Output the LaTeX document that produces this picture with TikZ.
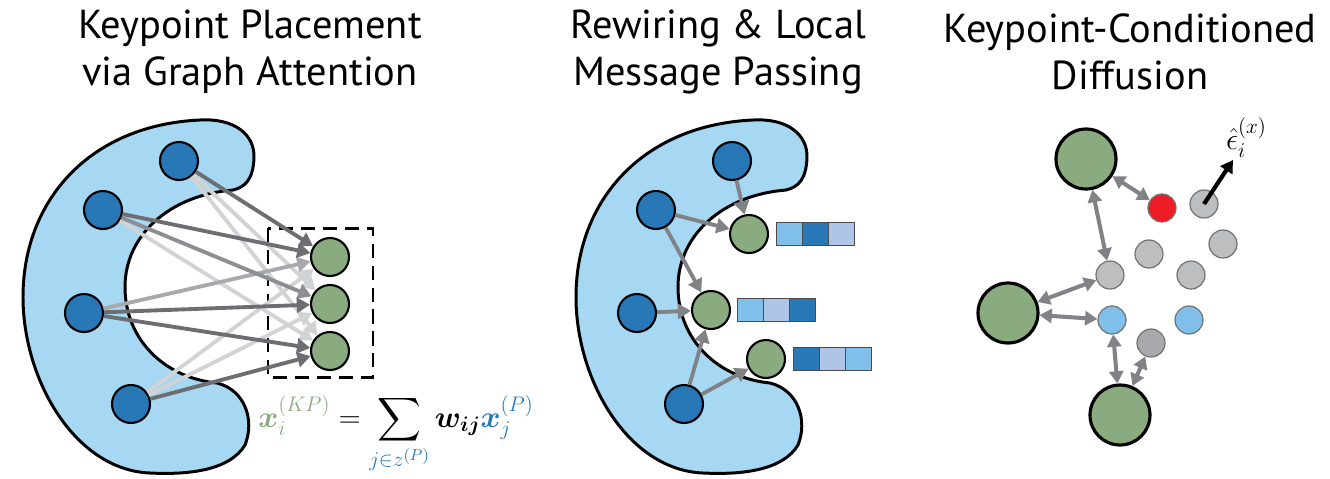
\documentclass[tikz,border=0pt]{standalone}
\usepackage{amsmath}
\usepackage{bm}
\usepackage{fontspec}
\setsansfont{PT Sans}
\usepackage{tikz}
\usetikzlibrary{arrows.meta,positioning}

\definecolor{blobblue}{RGB}{166,216,243}
\definecolor{ptblue}{RGB}{40,120,184}
\definecolor{kpgreen}{RGB}{138,170,128}
\definecolor{cellblue}{RGB}{127,191,233}
\definecolor{celllav}{RGB}{174,197,232}
\definecolor{arrowgray}{RGB}{128,130,133}
\definecolor{attdark}{RGB}{109,110,113}
\definecolor{attmid}{RGB}{140,142,145}
\definecolor{attsoft}{RGB}{167,169,172}
\definecolor{attlight}{RGB}{209,211,212}
\definecolor{dotgray}{RGB}{188,190,192}
\definecolor{dotdark}{RGB}{167,169,172}
\definecolor{dotred}{RGB}{237,28,36}

% outline of the point cloud
\newcommand{\blobshape}{(233,190) .. controls (170,195) and (125,235) .. (125,287)
  .. controls (125,340) and (165,378) .. (217,383)
  .. controls (245,390) and (255,420) .. (245,445)
  .. controls (230,470) and (190,475) .. (150,473)
  .. controls (75,470) and (23,380) .. (23,297)
  .. controls (23,200) and (90,125) .. (200,120)
  .. controls (235,118) and (255,135) .. (254,158)
  .. controls (253,180) and (245,187) .. cycle}

\begin{document}
\begin{tikzpicture}[x=0.02cm,y=-0.02cm,
    pt node/.style={circle,draw,line width=1.2pt,fill=ptblue,minimum size=0.76cm,inner sep=0pt},
    kp node/.style={circle,draw,line width=1.2pt,fill=kpgreen,minimum size=0.76cm,inner sep=0pt},
    big kp/.style={kp node,line width=1.8pt,minimum size=1.2cm},
    dot/.style={circle,draw=black!55,line width=0.7pt,fill=dotgray,minimum size=0.56cm,inner sep=0pt},
    att/.style={-{Triangle[length=7.5pt,width=8.5pt]},line width=2.2pt},
    msg/.style={att,draw=arrowgray},
    link/.style={{Triangle[length=7pt,width=8pt]}-{Triangle[length=7pt,width=8pt]},line width=2.3pt,draw=arrowgray},
    cell/.style={draw=black!70,line width=0.6pt,minimum width=0.52cm,minimum height=0.46cm,inner sep=0pt,outer sep=0pt},
    blob/.style={fill=blobblue,draw=black,line width=1.7pt},
    title/.style={font=\sffamily\fontsize{23}{26.6}\selectfont,align=center,inner sep=0pt}]
  \useasboundingbox (0,0) rectangle (1330,478);

  % titles
  \node[title] (t1) at (250,52) {Keypoint Placement\\via Graph Attention};
  \node[title] (t2) at (718,52) {Rewiring \& Local\\Message Passing};
  \node[title] (t3) at (1130,52) {Keypoint-Conditioned\\Diffusion};

  % panel 1: attention
  \filldraw[blob] \blobshape;
  \draw[line width=1.7pt,dash pattern=on 8pt off 4.5pt] (268,228) rectangle (373,377);

  \node[pt node] (p1) at (179,161) {};
  \node[pt node] (p2) at (103,210) {};
  \node[pt node] (p3) at (84,313) {};
  \node[pt node] (p4) at (131,404) {};
  \node[kp node] (k1) at (330,257) {};
  \node[kp node] (k2) at (330,304) {};
  \node[kp node] (k3) at (330,351) {};

  \draw[att,attlight] (p1) -- (k2);
  \draw[att,attlight] (p1) -- (k3);
  \draw[att,attlight] (p2) -- (k3);
  \draw[att,attlight] (p4) -- (k1);
  \draw[att,attlight] (p4) -- (k2);
  \draw[att,attsoft] (p3) -- (k1);
  \draw[att,attmid] (p2) -- (k2);
  \draw[att,attdark] (p2) -- (k1);
  \draw[att,attdark] (p1) -- (k1);
  \draw[att,attdark] (p3) -- (k2);
  \draw[att,attdark] (p3) -- (k3);
  \draw[att,attdark] (p4) -- (k3);

  \node[anchor=base west,inner sep=0pt,font=\fontsize{18}{20}\selectfont] (eq) at (258,427)
    {$\displaystyle {\color{kpgreen}\bm{x}_i^{(KP)}} = \sum_{\color{ptblue} j\in z^{(P)}} \bm{w_{ij}}{\color{ptblue}\bm{x}_j^{(P)}}$};

  % panel 2: local message passing
  \begin{scope}[shift={(553,0)}]
    \filldraw[blob] \blobshape;
  \end{scope}

  \node[pt node] (q1) at (732,161) {};
  \node[pt node] (q2) at (656,210) {};
  \node[pt node] (q3) at (637,313) {};
  \node[pt node] (q4) at (684,404) {};
  \node[kp node] (m1) at (749,234) {};
  \node[kp node] (m2) at (711,310) {};
  \node[kp node] (m3) at (766,359) {};

  \draw[msg] (q1) -- (m1);
  \draw[msg] (q2) -- (m1);
  \draw[msg] (q2) -- (m2);
  \draw[msg] (q3) -- (m2);
  \draw[msg] (q4) -- (m2);
  \draw[msg] (q4) -- (m3);

  \node[cell,fill=cellblue,right=0.15cm of m1] (r1a) {};
  \node[cell,fill=ptblue,right=0pt of r1a] (r1b) {};
  \node[cell,fill=celllav,right=0pt of r1b] (r1c) {};
  \node[cell,fill=cellblue,right=0.12cm of m2] (r2a) {};
  \node[cell,fill=celllav,right=0pt of r2a] (r2b) {};
  \node[cell,fill=ptblue,right=0pt of r2b] (r2c) {};
  \node[cell,fill=ptblue,right=0.14cm of m3] (r3a) {};
  \node[cell,fill=celllav,right=0pt of r3a] (r3b) {};
  \node[cell,fill=cellblue,right=0pt of r3b] (r3c) {};

  % panel 3: diffusion
  \node[big kp] (g1) at (1086,159) {};
  \node[big kp] (g2) at (1008,313) {};
  \node[big kp] (g3) at (1120,415) {};

  \node[dot,fill=dotred] (s1) at (1162,208) {};
  \node[dot] (s2) at (1204,204) {};
  \node[dot] (s3) at (1223,244) {};
  \node[dot] (s4) at (1149,254) {};
  \node[dot] (s5) at (1110,275) {};
  \node[dot] (s6) at (1191,275) {};
  \node[dot,fill=cellblue] (s7) at (1112,320) {};
  \node[dot,fill=cellblue] (s8) at (1189,320) {};
  \node[dot,fill=dotdark] (s9) at (1151,343) {};

  \draw[link] (g1) -- (s1);
  \draw[link] (g1) -- (s5);
  \draw[link] (g2) -- (s5);
  \draw[link] (g2) -- (s7);
  \draw[link] (s7) -- (g3);
  \draw[link] (s9) -- (g3);

  \coordinate (eps) at (1233,160);
  \draw[-{Triangle[length=7pt,width=8pt]},line width=2.4pt] (s2.center) -- (eps);
  \node[anchor=south west,inner sep=1pt,font=\fontsize{18}{20}\selectfont] (epslabel) at (1224,160) {$\hat{\epsilon}_i^{(x)}$};
\end{tikzpicture}
\end{document}
